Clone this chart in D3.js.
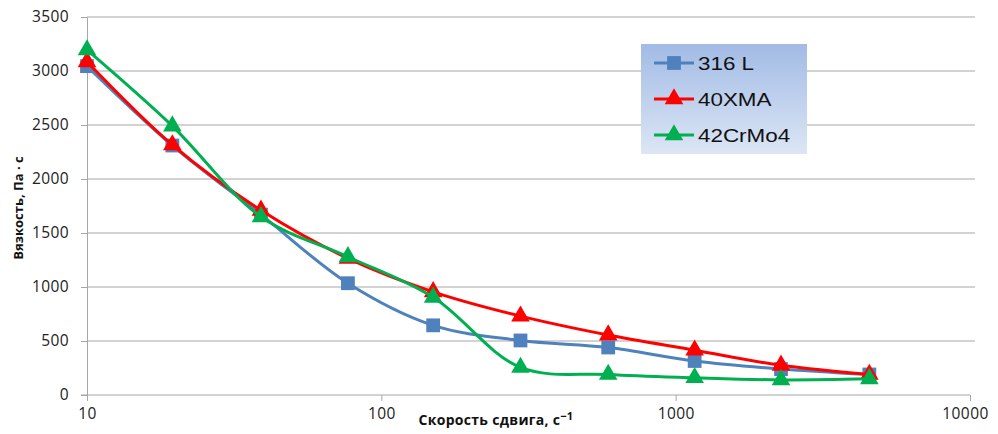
<!DOCTYPE html>
<html>
<head>
<meta charset="utf-8">
<script src="https://cdn.jsdelivr.net/npm/d3@7"></script>
<style>
  body { margin: 0; background: #fff; }
  svg { display: block; }
</style>
</head>
<body>
<div id="chart"></div>
<script>
// chart data
var shearRate = [10, 19.5, 39, 77, 150, 297, 590, 1160, 2280, 4550];
var visc316L = [3045, 2310, 1670, 1035, 645, 505, 440, 315, 240, 190];
var visc40XMA = [3085, 2315, 1710, 1265, 955, 730, 555, 415, 275, 190];
var visc42CrMo4 = [3195, 2490, 1650, 1280, 905, 255, 190, 160, 140, 150];
var seriesNames = ["316 L", "40XMA", "42CrMo4"];
var yTicks = [0, 500, 1000, 1500, 2000, 2500, 3000, 3500];
var xTicks = [10, 100, 1000, 10000];

var W = 998, H = 434;
var margin = {top: 17, right: 28, bottom: 39, left: 87};

var svg = d3.select("#chart").append("svg")
	.attr("width", W)
	.attr("height", H);

var x = d3.scaleLog()
	.domain([10, 10000])
	.range([margin.left, W - margin.right]);

var y = d3.scaleLinear()
	.domain([0, 3500])
	.range([H - margin.bottom, margin.top]);

var font = "'Open Sans', 'DejaVu Sans', sans-serif";

// gridlines
svg.append("g")
	.selectAll("line")
	.data(yTicks.filter(function(d) { return d > 0; }))
	.enter()
	.append("line")
	.attr("x1", margin.left)
	.attr("x2", W - margin.right + 5)
	.attr("y1", function(d) { return y(d); })
	.attr("y2", function(d) { return y(d); })
	.style("stroke", "#a6a6a6")
	.style("stroke-width", 1);

// y axis
var yAxis = svg.append("g")
	.attr("transform", "translate(" + margin.left + ",0)")
	.call(d3.axisLeft(y).tickValues(yTicks).tickFormat(d3.format("d")).tickSize(6).tickPadding(12).tickSizeOuter(0));

// x axis
var xAxis = svg.append("g")
	.attr("transform", "translate(0," + y(0) + ")")
	.call(d3.axisBottom(x).tickValues(xTicks).tickFormat(d3.format("d")).tickSize(6).tickPadding(7).tickSizeOuter(0));

[yAxis, xAxis].forEach(function(ax) {
	ax.select(".domain").style("stroke", "#a6a6a6");
	ax.selectAll(".tick line").style("stroke", "#a6a6a6");
	ax.selectAll("text")
		.style("font-family", font)
		.style("font-size", "15.5px")
		.style("letter-spacing", "0.4px")
		.style("fill", "#222");
});
xAxis.select(".domain").attr("d", "M" + (margin.left - 6) + ",0H" + x(10000));
xAxis.selectAll(".tick").filter(function(d) { return d === 10000; })
	.select("text").attr("dx", -5);

// axis titles
var xTitle = svg.append("text")
	.attr("x", 496)
	.attr("y", 425)
	.attr("text-anchor", "middle")
	.style("font-family", font)
	.style("font-size", "14px")
	.style("font-weight", "bold")
	.style("letter-spacing", "0.3px")
	.style("fill", "#111")
	.text("Скорость сдвига, с");
xTitle.append("tspan")
	.attr("dy", -5)
	.style("font-size", "11px")
	.text("−1");

svg.append("text")
	.attr("transform", "translate(23,208) rotate(-90)")
	.attr("text-anchor", "middle")
	.style("font-family", font)
	.style("font-size", "13px")
	.style("font-weight", "bold")
	.style("fill", "#111")
	.text("Вязкость, Па · с");

// series
var series = [
	{name: seriesNames[0], values: visc316L, color: "#4f81bd", marker: d3.symbolSquare, size: 190},
	{name: seriesNames[1], values: visc40XMA, color: "#ff0000", marker: d3.symbolTriangle, size: 150},
	{name: seriesNames[2], values: visc42CrMo4, color: "#00b050", marker: d3.symbolTriangle, size: 150}
];

var line = d3.line()
	.x(function(d) { return x(d[0]); })
	.y(function(d) { return y(d[1]); })
	.curve(d3.curveCatmullRom.alpha(0.5));

series.forEach(function(s) {
	var pts = shearRate.map(function(r, i) { return [r, s.values[i]]; });
	var g = svg.append("g");
	g.append("path")
		.datum(pts)
		.attr("d", line)
		.style("fill", "none")
		.style("stroke", s.color)
		.style("stroke-width", 3);
	g.selectAll("path.m")
		.data(pts)
		.enter()
		.append("path")
		.attr("class", "m")
		.attr("transform", function(d) { return "translate(" + x(d[0]) + "," + y(d[1]) + ")"; })
		.attr("d", d3.symbol().type(s.marker).size(s.size))
		.style("fill", s.color);
});

// legend
var defs = svg.append("defs");
var grad = defs.append("linearGradient")
	.attr("id", "legbg")
	.attr("x1", 0).attr("y1", 0).attr("x2", 0).attr("y2", 1);
grad.append("stop").attr("offset", "0%").attr("stop-color", "#a2bbe5");
grad.append("stop").attr("offset", "100%").attr("stop-color", "#dce6f5");

var legend = svg.append("g").attr("transform", "translate(641,44)");
legend.append("rect")
	.attr("width", 166)
	.attr("height", 110)
	.style("fill", "url(#legbg)");

var items = legend.selectAll("g.item")
	.data(series)
	.enter()
	.append("g")
	.attr("class", "item")
	.attr("transform", function(d, i) { return "translate(0," + (19 + i * 36) + ")"; });

items.append("line")
	.attr("x1", 13).attr("x2", 53)
	.style("stroke", function(d) { return d.color; })
	.style("stroke-width", 3);
items.append("path")
	.attr("transform", "translate(33,0)")
	.attr("d", function(d) { return d3.symbol().type(d.marker).size(d.size)(); })
	.style("fill", function(d) { return d.color; });
items.append("text")
	.attr("transform", "translate(57,7) scale(1.18,1)")
	.style("font-family", "'Liberation Sans', Arial, sans-serif")
	.style("font-size", "19px")
	.style("fill", "#111")
	.text(function(d) { return d.name; });
</script>
</body>
</html>
